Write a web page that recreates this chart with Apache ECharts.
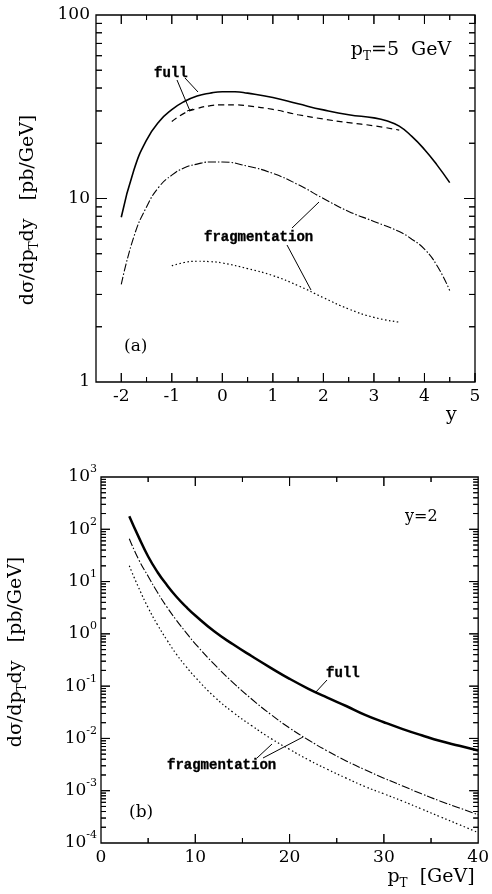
<!DOCTYPE html>
<html>
<head>
<meta charset="utf-8">
<script src="https://cdn.jsdelivr.net/npm/echarts@6/dist/echarts.min.js"></script>
<style>
body{margin:0;background:#fff;}
#chart{width:492px;height:894px;background:#fff;}
</style>
</head>
<body>
<div id="chart"></div>
<script>
// panel (a): pT = 5 GeV, versus rapidity y
var yFull=[-2,-1.75,-1.5,-1.25,-1,-0.75,-0.5,-0.25,0,0.25,0.5,1,1.5,2,2.5,3,3.25,3.5,3.75,4,4.25,4.5];
var vFull=[7.9,14.3,20.8,26.3,30.5,33.8,36.2,37.5,38.2,38.2,37.5,35.5,32.8,30.4,28.6,27.5,26.5,24.8,21.8,18.5,15.2,12.2];
var yFullDash=[-1,-0.75,-0.5,-0.25,0,0.25,0.5,1,1.5,2,2.5,3,3.5];
var vFullDash=[26.3,29.2,30.9,32.0,32.4,32.4,32.0,30.6,28.6,27.1,25.9,24.9,23.6];
var yFrag1=[-2,-1.75,-1.5,-1.25,-1,-0.75,-0.5,-0.25,0,0.5,1,1.5,2,2.5,3,3.5,3.75,4,4.25,4.5];
var vFrag1=[3.4,6.2,9.0,11.6,13.4,14.7,15.4,15.8,15.8,15.0,13.7,11.9,10.0,8.5,7.5,6.6,6.0,5.3,4.3,3.15];
var yFrag2=[-1,-0.75,-0.5,-0.25,0,0.5,1,1.5,2,2.5,3,3.5];
var vFrag2=[4.3,4.48,4.55,4.53,4.45,4.15,3.8,3.35,2.88,2.5,2.25,2.12];

// panel (b): y = 2, versus pT
var ptVals=[3,4,5,6,7,8,9,10,12,14,16,18,20,22,24,26,28,30,32,34,36,38,40];
var bFull=[178,70.8,30.2,15.1,8.51,5.13,3.31,2.24,1.12,0.631,0.372,0.224,0.138,0.0891,0.0603,0.0417,0.0282,0.0204,0.0151,0.0115,0.00891,0.00724,0.00589];
var bFrag1=[66.1,26.3,12.6,6.17,3.24,1.82,1.07,0.646,0.263,0.117,0.0562,0.0288,0.0158,0.00933,0.00575,0.00372,0.00251,0.00174,0.00123,0.000871,0.000631,0.000468,0.000347];
var bFrag2=[20.0,7.59,3.16,1.48,0.759,0.407,0.24,0.148,0.0631,0.0316,0.0174,0.01,0.00617,0.00389,0.00257,0.00174,0.0012,0.000871,0.000631,0.000447,0.000316,0.000224,0.000158];

// axis ranges and ticks
var aXRange=[-2.5,5], aYRange=[1,100];
var bXRange=[0,40], bYRange=[0.0001,1000];
var aXMajor=[-2,-1,0,1,2,3,4,5];
var aXMinor=[-1.5,-0.5,0.5,1.5,2.5,3.5,4.5];
var aYMajor=[10];
var aYMinor=[2,3,4,5,6,7,8,9,20,30,40,50,60,70,80,90];
var bXMajor=[10,20,30];
var bXMinor=[5,15,25,35];
var bYMajor=[0.001,0.01,0.1,1,10,100];
var bYMinor=[];
for(var n=-4;n<=2;n++){for(var m=2;m<=9;m++){bYMinor.push(m*Math.pow(10,n));}}

var tickSets=[
	{xr:aXRange,yr:aYRange,xMajor:aXMajor,xMinor:aXMinor,yMajor:aYMajor,yMinor:aYMinor,lx:[9,5],ly:[11,6]},
	{xr:bXRange,yr:bYRange,xMajor:bXMajor,xMinor:bXMinor,yMajor:bYMajor,yMinor:bYMinor,lx:[9,5],ly:[9,5]}
];

function zip(a,b){
	var out=[];
	for(var i=0;i<a.length;i++){out.push([a[i],b[i]]);}
	return out;
}

var serif='DejaVu Serif';
var mono='Liberation Mono';
var labelStyle={color:'#000',fontFamily:serif,fontSize:17};
var supRich={
	b:{fontFamily:serif,fontSize:17,color:'#000',lineHeight:26},
	s:{fontFamily:serif,fontSize:11,color:'#000',lineHeight:11,verticalAlign:'top'}
};
var subRich={
	n:{fontFamily:serif,fontSize:19,color:'#000',lineHeight:26},
	t:{fontFamily:serif,fontSize:12,color:'#000',lineHeight:12,verticalAlign:'bottom'}
};

function txt(x,y,text,font,size,weight,stroke){
	var st={text:text,fill:'#000',font:(weight||'normal')+' '+size+'px "'+font+'"',textAlign:'left',textVerticalAlign:'middle'};
	if(stroke){st.stroke='#000';st.lineWidth=stroke;}
	return {type:'text',x:x,y:y,style:st};
}
function seg(x1,y1,x2,y2,w){
	return {type:'line',shape:{x1:x1,y1:y1,x2:x2,y2:y2},style:{stroke:'#000',lineWidth:w||1}};
}
function richTxt(x,y,text,rot){
	return {type:'text',x:x,y:y,rotation:rot||0,style:{text:text,rich:subRich,align:'center',verticalAlign:'middle'}};
}

function makeLabels(){
	return [
		// panel (a)
		richTxt(401,50,'{n|p}{t|T}{n|=5  GeV}'),
		txt(154,73,'full',mono,14,'bold',0.35),
		seg(185,78,198,92),
		seg(177,80,190,111),
		seg(187,111,193,109),
		txt(204,237,'fragmentation',mono,14,'bold',0.35),
		seg(292,228,319,202),
		seg(287,245,311,290),
		txt(124,347,'(a)',serif,17),
		txt(446,415,'y',serif,19),
		richTxt(28,210,'{n|dσ/dp}{t|T}{n|dy   [pb/GeV]}',Math.PI/2),
		// panel (b)
		txt(405,517,'y=2',serif,16),
		txt(326,673,'full',mono,14,'bold',0.35),
		seg(327,680,315,693),
		txt(167,765,'fragmentation',mono,14,'bold',0.35),
		seg(257,758,272,744),
		seg(263,758,303,737),
		txt(129,813,'(b)',serif,17),
		richTxt(431,877,'{n|p}{t|T}{n|  [GeV]}'),
		richTxt(16,652,'{n|dσ/dp}{t|T}{n|dy   [pb/GeV]}',Math.PI/2)
	];
}

function lineSeries(name,xi,data,width,type){
	return {name:name,type:'line',xAxisIndex:xi,yAxisIndex:xi,data:data,
		smooth:0.5,showSymbol:false,silent:true,
		lineStyle:{color:'#000',width:width,type:type||'solid'}};
}

// one custom series per grid draws every inward tick on the four sides
function tickLines(ts,toPx,left,right,top,bottom){
	var out=[],i,k,p,vals,len;
	var xs=[ts.xMajor,ts.xMinor],ys=[ts.yMajor,ts.yMinor];
	for(k=0;k<2;k++){
		vals=xs[k];len=ts.lx[k];
		for(i=0;i<vals.length;i++){
			p=toPx([vals[i],ts.yr[0]]);
			out.push(seg(p[0],bottom,p[0],bottom-len));
			out.push(seg(p[0],top,p[0],top+len));
		}
		vals=ys[k];len=ts.ly[k];
		for(i=0;i<vals.length;i++){
			p=toPx([ts.xr[0],vals[i]]);
			out.push(seg(left,p[1],left+len,p[1]));
			out.push(seg(right,p[1],right-len,p[1]));
		}
	}
	return out;
}
function tickSeries(gi){
	return {name:'ticks '+gi,type:'custom',coordinateSystem:'cartesian2d',xAxisIndex:gi,yAxisIndex:gi,
		data:[[tickSets[gi].xr[0],tickSets[gi].yr[0]]],silent:true,z:5,clip:false,
		renderItem:function(params,api){
			var cs=params.coordSys;
			return {type:'group',children:tickLines(tickSets[gi],function(v){return api.coord(v);},
				cs.x,cs.x+cs.width,cs.y,cs.y+cs.height)};
		}};
}

var dom=document.getElementById("chart");
var myChart=echarts.init(dom);
var option=null;
option={
	animation:false,
	grid:[
		{left:96,top:15,width:379,height:367,show:true,borderColor:'#000',borderWidth:1.3},
		{left:101,top:477,width:378,height:366,show:true,borderColor:'#000',borderWidth:1.3}
	],
	xAxis:[
		{gridIndex:0,type:'value',min:aXRange[0],max:aXRange[1],interval:0.5,
			axisLine:{show:false},axisTick:{show:false},splitLine:{show:false},
			axisLabel:Object.assign({margin:6,formatter:function(v){return aXMajor.indexOf(v)>=0?String(v):'';}},labelStyle)},
		{gridIndex:1,type:'value',min:bXRange[0],max:bXRange[1],interval:10,
			axisLine:{show:false},axisTick:{show:false},splitLine:{show:false},
			axisLabel:Object.assign({margin:6},labelStyle)}
	],
	yAxis:[
		{gridIndex:0,type:'log',logBase:10,min:aYRange[0],max:aYRange[1],
			axisLine:{show:false},axisTick:{show:false},splitLine:{show:false},
			axisLabel:Object.assign({margin:6},labelStyle)},
		{gridIndex:1,type:'log',logBase:10,min:bYRange[0],max:bYRange[1],
			axisLine:{show:false},axisTick:{show:false},splitLine:{show:false},
			axisLabel:{margin:4,rich:supRich,formatter:function(v){
				var e=Math.round(Math.log(v)/Math.LN10);
				return '{b|10}{s|'+e+'}';
			}}}
	],
	series:[
		lineSeries('full',0,zip(yFull,vFull),1.6),
		lineSeries('full dashed',0,zip(yFullDash,vFullDash),1.2,[6,4]),
		lineSeries('fragmentation 1',0,zip(yFrag1,vFrag1),1.1,[8,2,1.5,2]),
		lineSeries('fragmentation 2',0,zip(yFrag2,vFrag2),1.2,[1.5,2.5]),
		lineSeries('full b',1,zip(ptVals,bFull),2.5),
		lineSeries('fragmentation 1 b',1,zip(ptVals,bFrag1),1.1,[8,2,1.5,2]),
		lineSeries('fragmentation 2 b',1,zip(ptVals,bFrag2),1.2,[1.5,2.5]),
		tickSeries(0),
		tickSeries(1)
	],
	graphic:makeLabels()
};

if (option && typeof option === "object") {
	myChart.setOption(option, true);
}

// second route for the same ticks, through the chart's own pixel conversion
try{
	var extra=[];
	for(var gi=0;gi<2;gi++){
		var ts=tickSets[gi];
		var f={gridIndex:gi};
		var c0=myChart.convertToPixel(f,[ts.xr[0],ts.yr[0]]);
		var c1=myChart.convertToPixel(f,[ts.xr[1],ts.yr[1]]);
		if(c0&&c1&&isFinite(c0[0])&&isFinite(c1[1])){
			extra=extra.concat(tickLines(ts,function(v){return myChart.convertToPixel(f,v);},c0[0],c1[0],c1[1],c0[1]));
		}
	}
	myChart.setOption({graphic:makeLabels().concat(extra)});
}catch(e){}
</script>
</body>
</html>
